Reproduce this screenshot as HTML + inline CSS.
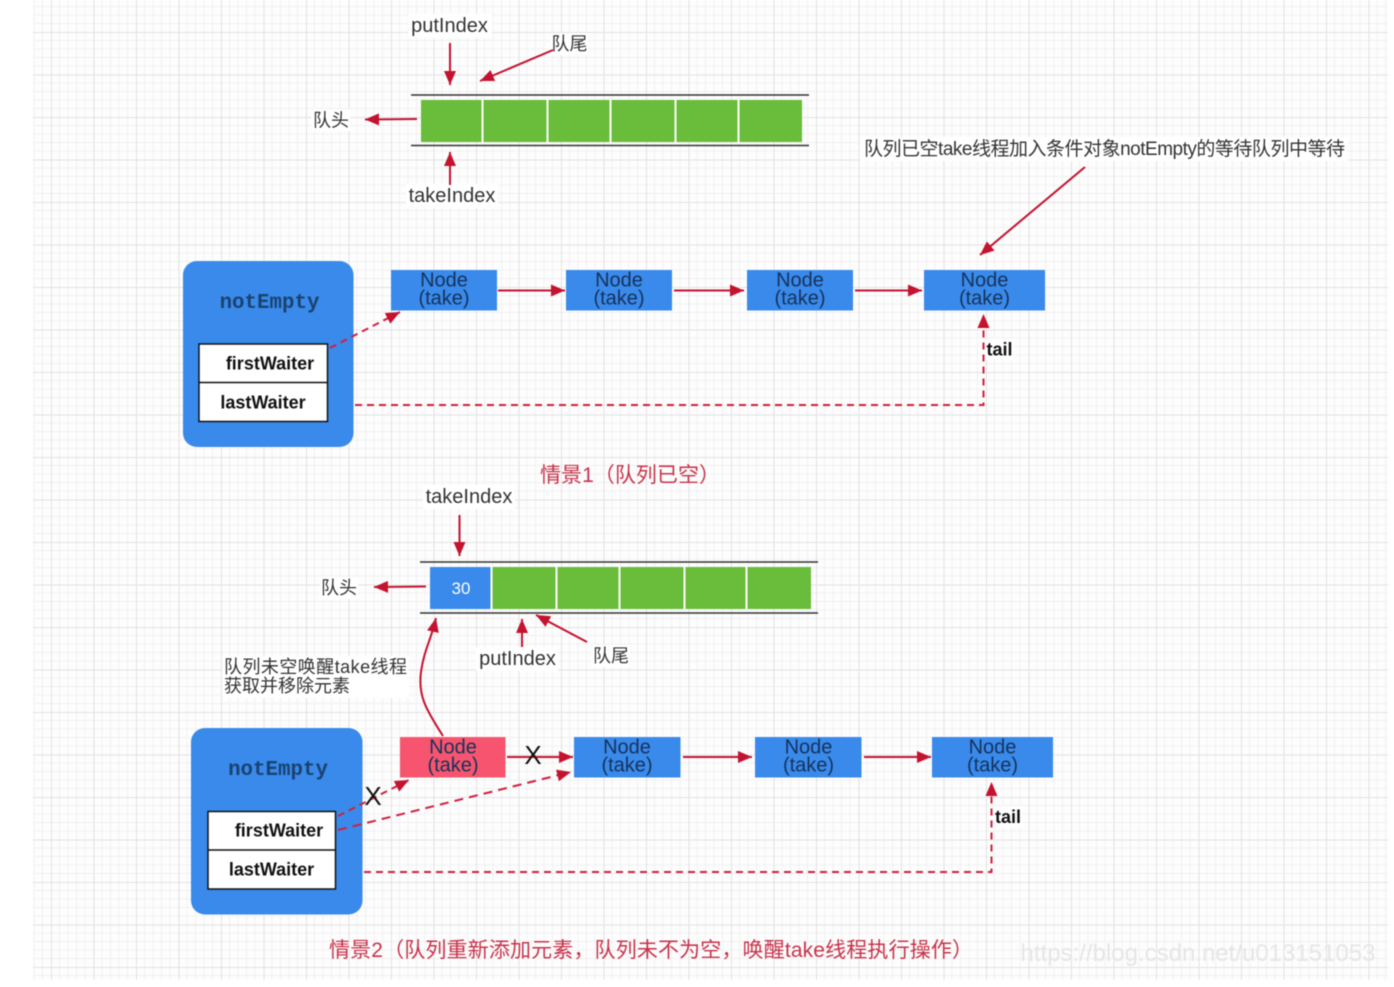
<!DOCTYPE html>
<html><head><meta charset="utf-8"><style>
html,body{margin:0;padding:0;background:#fff}
svg{display:block;filter:blur(0.45px)}
text{font-family:"Liberation Sans","Noto Sans CJK SC",sans-serif;fill:#333;font-size:18px}
.c{text-anchor:middle}
.n{font-size:20px;fill:#16325a;text-anchor:middle}
.b{font-weight:bold;fill:#111;font-size:18px;text-anchor:middle}
.m{font-family:"Liberation Mono",monospace;font-weight:bold;font-size:20.800px;fill:#1a4270;text-anchor:middle}
.r{fill:#c8324a;font-size:21px}
.l{stroke:#c4122f;stroke-width:2;fill:none}
.d{stroke:#d0203f;stroke-width:2;fill:none;stroke-dasharray:7 5}
</style></head><body>
<svg width="1394" height="987" viewBox="0 0 1394 987" xmlns="http://www.w3.org/2000/svg">
<defs>
<pattern id="g" width="42.5" height="42.5" patternUnits="userSpaceOnUse" patternTransform="translate(8.5 32)">
<rect width="42.5" height="42.5" fill="#fdfdfd"/>
<path d="M8.5 0V42.5M17 0V42.5M25.5 0V42.5M34 0V42.5M0 8.5H42.5M0 17H42.5M0 25.5H42.5M0 34H42.5" stroke="#f1f1f1" stroke-width="1"/>
<path d="M0.5 0V42.5M0 0.5H42.5" stroke="#e2e2e2" stroke-width="1"/>
</pattern>
<marker id="a" markerUnits="userSpaceOnUse" markerWidth="16" markerHeight="14" refX="14" refY="6" orient="auto"><path d="M0 0L14 6L0 12Z" fill="#c4122f"/></marker>
</defs>
<rect x="33" y="0" width="1355" height="980" fill="url(#g)"/>

<!-- top queue -->
<path d="M411 95H809M411 145.500H809" stroke="#333" stroke-width="1.600"/>
<rect x="421" y="100" width="381" height="42" fill="#6abd3a"/>
<path d="M482.500 100V142M547.500 100V142M610.500 100V142M675.500 100V142M738.500 100V142" stroke="#fff" stroke-width="2"/>
<rect x="408" y="14" width="84" height="24" fill="#fff"/>
<text x="449.500" y="32" class="c" style="font-size:20px">putIndex</text>
<rect x="406" y="184" width="92" height="24" fill="#fff"/>
<text x="452" y="202" class="c" style="font-size:20px">takeIndex</text>
<rect x="311" y="109" width="39" height="22" fill="#fff"/>
<text x="331" y="126.500" class="c">队头</text>
<rect x="550" y="33" width="38" height="22" fill="#fff"/>
<text x="569.500" y="50" class="c">队尾</text>
<path class="l" d="M450 43V85" marker-end="url(#a)"/>
<path class="l" d="M553 50L480 81" marker-end="url(#a)"/>
<path class="l" d="M417 119L365 119.500" marker-end="url(#a)"/>
<path class="l" d="M450 185V152" marker-end="url(#a)"/>

<rect x="860" y="137" width="488" height="24" fill="#fff"/>
<text x="864" y="155" textLength="481" lengthAdjust="spacing" style="font-size:19px">队列已空take线程加入条件对象notEmpty的等待队列中等待</text>
<path class="l" d="M1085 167L980 255" marker-end="url(#a)"/>

<!-- group 1 -->
<rect x="183" y="261" width="170.500" height="186" rx="14" fill="#398aeb"/>
<text x="269.500" y="308" class="m">notEmpty</text>
<rect x="199" y="344" width="128.500" height="77.500" fill="#fff" stroke="#111" stroke-width="1.500"/>
<path d="M199 382.500H327.500" stroke="#111" stroke-width="1.500"/>
<text x="270" y="369.500" class="b">firstWaiter</text>
<text x="263" y="408.500" class="b">lastWaiter</text>
<g fill="#398aeb">
<rect x="391" y="270" width="106" height="40.500"/>
<rect x="566" y="270" width="106" height="40.500"/>
<rect x="747" y="270" width="106" height="40.500"/>
<rect x="924" y="270" width="121" height="40.500"/>
</g>
<text x="444" y="286.500" class="n">Node</text><text x="444" y="304.500" class="n">(take)</text>
<text x="619" y="286.500" class="n">Node</text><text x="619" y="304.500" class="n">(take)</text>
<text x="800" y="286.500" class="n">Node</text><text x="800" y="304.500" class="n">(take)</text>
<text x="984.500" y="286.500" class="n">Node</text><text x="984.500" y="304.500" class="n">(take)</text>
<path class="l" d="M498 290.500H565" marker-end="url(#a)"/>
<path class="l" d="M674 290.500H744" marker-end="url(#a)"/>
<path class="l" d="M855 290.500H922" marker-end="url(#a)"/>
<path class="d" d="M330 348L400 312" marker-end="url(#a)"/>
<path class="d" d="M355 405H983.500V314" marker-end="url(#a)"/>
<rect x="986" y="339" width="28" height="21" fill="#fff"/>
<text x="999.500" y="355.500" class="b">tail</text>

<text x="540" y="482" class="r" textLength="180" lengthAdjust="spacing">情景1（队列已空）</text>

<!-- lower queue -->
<rect x="423" y="485" width="92" height="24" fill="#fff"/>
<text x="469" y="503" class="c" style="font-size:20px">takeIndex</text>
<path d="M420 562H818M420 613H818" stroke="#333" stroke-width="1.600"/>
<rect x="430" y="567" width="381" height="42" fill="#6abd3a"/>
<rect x="430" y="567" width="61" height="42" fill="#398aeb"/>
<path d="M491.500 567V609M556.500 567V609M619.500 567V609M684.500 567V609M746.500 567V609" stroke="#fff" stroke-width="2"/>
<text x="461" y="594" class="c" style="fill:#fff;font-size:17px">30</text>
<rect x="320" y="577" width="38" height="22" fill="#fff"/>
<text x="339" y="594" class="c">队头</text>
<path class="l" d="M426 586.500L374 587" marker-end="url(#a)"/>
<path class="l" d="M459.500 515V556" marker-end="url(#a)"/>
<path class="l" d="M522 650V619" marker-end="url(#a)"/>
<path class="l" d="M587 642L536 615" marker-end="url(#a)"/>
<rect x="476" y="647" width="82" height="24" fill="#fff"/>
<text x="517.500" y="665" class="c" style="font-size:20px">putIndex</text>
<rect x="592" y="645" width="38" height="22" fill="#fff"/>
<text x="611" y="662" class="c">队尾</text>
<rect x="222" y="656" width="187" height="42" fill="#fff"/>
<text x="224" y="673" textLength="183" lengthAdjust="spacing">队列未空唤醒take线程</text>
<text x="224" y="692">获取并移除元素</text>
<path class="l" d="M443 736C425 708 418 695 421 672C424 650 431 640 436 618" marker-end="url(#a)"/>

<!-- group 2 -->
<rect x="191" y="728" width="171.500" height="186.500" rx="14" fill="#398aeb"/>
<text x="278" y="775" class="m">notEmpty</text>
<rect x="208" y="811.500" width="127.500" height="77.500" fill="#fff" stroke="#111" stroke-width="1.500"/>
<path d="M208 850H335.500" stroke="#111" stroke-width="1.500"/>
<text x="279" y="836.500" class="b">firstWaiter</text>
<text x="271.500" y="875.500" class="b">lastWaiter</text>
<rect x="400" y="737" width="105.500" height="40.500" fill="#f7556f"/>
<g fill="#398aeb">
<rect x="574" y="737" width="106.500" height="40.500"/>
<rect x="755" y="737" width="106.500" height="40.500"/>
<rect x="932" y="737" width="121" height="40.500"/>
</g>
<text x="453" y="753.500" class="n">Node</text><text x="453" y="771.500" class="n">(take)</text>
<text x="627" y="753.500" class="n">Node</text><text x="627" y="771.500" class="n">(take)</text>
<text x="808.500" y="753.500" class="n">Node</text><text x="808.500" y="771.500" class="n">(take)</text>
<text x="992.500" y="753.500" class="n">Node</text><text x="992.500" y="771.500" class="n">(take)</text>
<path class="l" d="M507 757H573" marker-end="url(#a)"/>
<path class="l" d="M683 757H752" marker-end="url(#a)"/>
<path class="l" d="M864 757H931" marker-end="url(#a)"/>
<path class="d" d="M338 816L409 780" marker-end="url(#a)"/>
<path class="d" d="M338 830L571 772" marker-end="url(#a)" style="stroke-dasharray:9 6"/>
<path class="d" d="M364 872H991.500V782" marker-end="url(#a)"/>
<text x="533" y="764" class="c" style="fill:#111;font-size:26px">X</text>
<text x="373" y="805" class="c" style="fill:#111;font-size:26px">X</text>
<rect x="994" y="806" width="28" height="21" fill="#fff"/>
<text x="1008" y="823" class="b">tail</text>

<text x="329" y="957" class="r" textLength="644" lengthAdjust="spacing">情景2（队列重新添加元素，队列未不为空，唤醒take线程执行操作）</text>
<text x="1198" y="961" class="c" style="font-size:24px;fill:#e6e6e6">https://blog.csdn.net/u013151053</text>
</svg>
</body></html>
